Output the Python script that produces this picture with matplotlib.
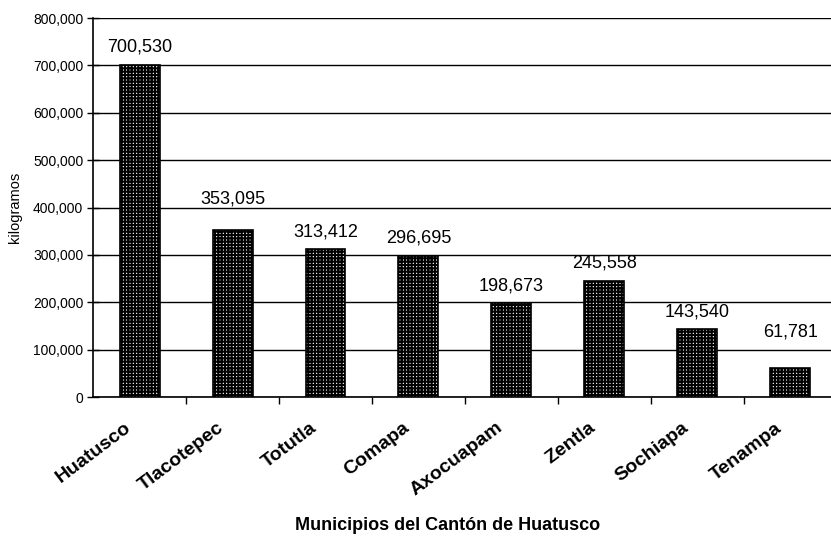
import matplotlib
matplotlib.use("Agg")
import matplotlib.pyplot as plt
from matplotlib.ticker import FuncFormatter, FixedLocator
from matplotlib.transforms import ScaledTranslation

municipios = ["Huatusco", "Tlacotepec", "Totutla", "Comapa", "Axocuapam",
              "Zentla", "Sochiapa", "Tenampa"]
kilogramos = [700530, 353095, 313412, 296695, 198673, 245558, 143540, 61781]
etiquetas = ["700,530", "353,095", "313,412", "296,695", "198,673",
             "245,558", "143,540", "61,781"]
y_ticks = [0, 100000, 200000, 300000, 400000, 500000, 600000, 700000, 800000]

# label offsets above bar tops (points) - styling only
label_offsets = [13, 22, 12, 13, 12, 13, 12, 26]

plt.rcParams['font.family'] = ['Liberation Sans', 'DejaVu Sans']
plt.rcParams['hatch.linewidth'] = 1.5

fig = plt.figure(figsize=(8.31, 5.44), dpi=100)
ax = fig.add_axes([0.112, 0.2702, 0.895, 0.6967])

x = list(range(len(municipios)))
bars = ax.bar(x, kilogramos, width=0.43, facecolor='white', edgecolor='black',
              hatch='+++++', linewidth=1.2, zorder=3)

for xi, v, lab, off in zip(x, kilogramos, etiquetas, label_offsets):
    ax.annotate(lab, (xi, v), xytext=(0, off), textcoords='offset points',
                ha='center', va='center', fontsize=13, color='black', zorder=4)

ax.set_xlim(-0.5, len(municipios) - 0.5)
ax.set_ylim(0, 800000)
ax.yaxis.set_major_locator(FixedLocator(y_ticks))
ax.yaxis.set_major_formatter(FuncFormatter(lambda v, p: f"{int(v):,}"))
ax.grid(axis='y', color='black', linewidth=1.0, zorder=1)

ax.set_xticks([i + 0.5 for i in x[:-1]], minor=False)
ax.set_xticklabels([])
ax.tick_params(axis='x', which='major', direction='out', length=5, width=1)
ax.set_xticks(x, minor=True)
ax.set_xticklabels(municipios, minor=True, rotation=37, ha='right',
                   rotation_mode='anchor', fontsize=14, fontweight='bold')
ax.tick_params(axis='x', which='minor', length=0, pad=16)
shift = ScaledTranslation(-16 / 100, 0, fig.dpi_scale_trans)
for lbl in ax.get_xticklabels(minor=True):
    lbl.set_transform(lbl.get_transform() + shift)

ax.tick_params(axis='y', direction='inout', length=8, width=1, labelsize=10, pad=3)

for s in ['top', 'right']:
    ax.spines[s].set_visible(False)
ax.spines['left'].set_linewidth(1.2)
ax.spines['bottom'].set_linewidth(1.2)

ax.set_ylabel("kilogramos", fontsize=10.5, labelpad=8)
fig.text(448 / 831, 1 - 525 / 544, "Municipios del Cantón de Huatusco",
         ha='center', va='center', fontsize=13, fontweight='bold')

fig.savefig("out.png", dpi=100)
